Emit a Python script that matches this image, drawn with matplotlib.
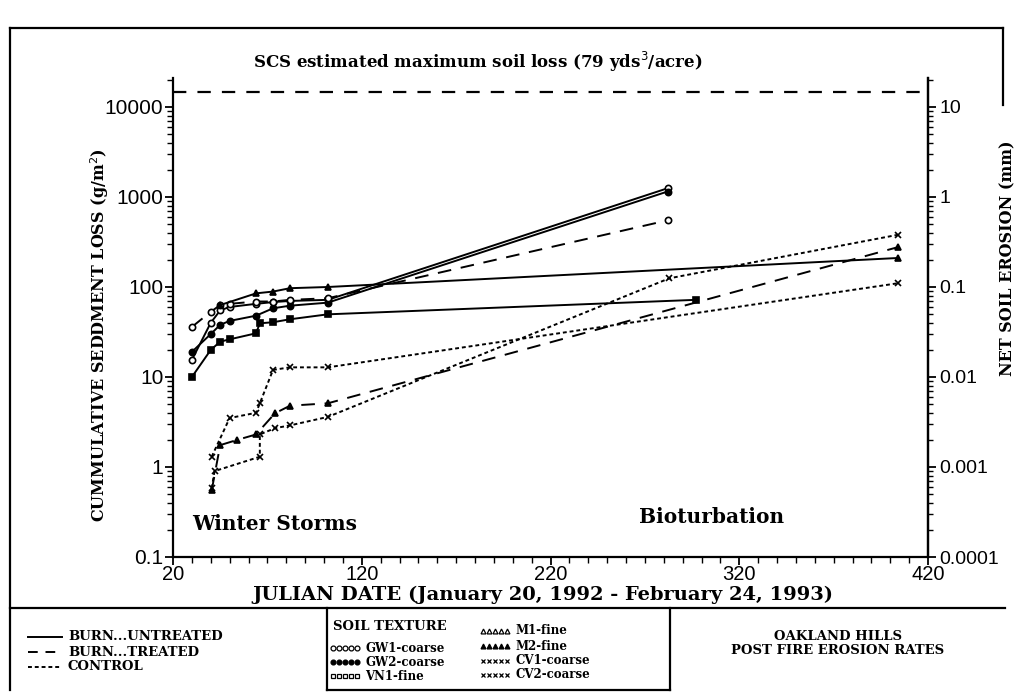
import matplotlib.pyplot as plt
from matplotlib.lines import Line2D
from matplotlib.ticker import FixedLocator, LogLocator, NullFormatter

# data (Julian day, cumulative loss in g/m2)
gw1_u_day = [30, 40, 45, 50, 64, 73, 82, 102, 282]
gw1_u_val = [15.5, 40, 55, 60, 65, 68, 70, 72, 1250]
gw2_u_day = [30, 40, 45, 50, 64, 73, 82, 102, 282]
gw2_u_val = [19, 30, 38, 42, 48, 58, 62, 67, 1150]
gw1_t_day = [30, 40, 45, 50, 64, 73, 82, 102, 282]
gw1_t_val = [36, 53, 63, 65, 69, 69, 72, 75, 550]
vn1_u_day = [30, 40, 45, 50, 64, 66, 73, 82, 102, 297]
vn1_u_val = [10, 20, 24.7, 26.2, 30.6, 39.5, 40.6, 43.8, 49.7, 72]
m1_u_day = [45, 64, 73, 82, 102, 404]
m1_u_val = [63, 85, 89, 97, 100, 210]
m2_t_day = [40.5, 45, 54, 64, 74, 82, 102, 404]
m2_t_val = [0.55, 1.75, 2.0, 2.3, 3.95, 4.8, 5.1, 277]
cv1_c_day = [40.5, 50, 64, 66, 73, 82, 102, 404]
cv1_c_val = [1.3, 3.5, 4.0, 5.1, 12, 12.8, 12.8, 110]
cv2_c_day = [40.5, 42, 66, 66, 74, 82, 102, 283, 404]
cv2_c_val = [0.58, 0.9, 1.3, 2.3, 2.7, 2.9, 3.6, 125, 380]

scs_max = 14700  # SCS estimated maximum soil loss, g/m2
mm_factor = 1000  # g/m2 per mm of net soil erosion

SERIF = "DejaVu Serif"
SANS = "Liberation Sans"

fig = plt.figure(figsize=(10.15, 6.97), dpi=100)
W, H = 1015, 697


def fx(px):
    return px / W


def fy(py):
    return 1 - py / H


ax = fig.add_axes([fx(173), fy(557), fx(928) - fx(173), fy(78) - fy(557)])
ax.set_yscale("log")
ax.set_xlim(20, 420)
ax.set_ylim(0.1, 21000)

series = [
    (gw1_u_day, gw1_u_val, "-", "o", "white"),
    (gw2_u_day, gw2_u_val, "-", "o", "black"),
    (gw1_t_day, gw1_t_val, (0, (7, 5)), "o", "white"),
    (vn1_u_day, vn1_u_val, "-", "s", "black"),
    (m1_u_day, m1_u_val, "-", "^", "black"),
    (m2_t_day, m2_t_val, (0, (7, 5)), "^", "black"),
    (cv1_c_day, cv1_c_val, (0, (2, 1.5)), "x", "black"),
    (cv2_c_day, cv2_c_val, (0, (2, 1.5)), "x", "black"),
]
for days, vals, ls, mk, mfc in series:
    ax.plot(days, vals, color="black", lw=1.4, ls=ls, marker=mk, ms=4.5,
            mfc=mfc, mec="black", mew=1.2)

ax.plot([20, 420], [scs_max, scs_max], color="black", lw=1.6, ls=(0, (6, 5)))

ax.text(30, 0.2, "Winter Storms", fontsize=14.5, fontweight="bold",
        family=SERIF)
ax.text(267, 0.24, "Bioturbation", fontsize=14.5, fontweight="bold",
        family=SERIF)

ax.spines["top"].set_visible(False)
for s in ("left", "bottom", "right"):
    ax.spines[s].set_linewidth(1.6)

ax.xaxis.set_major_locator(FixedLocator([20, 120, 220, 320, 420]))
ax.xaxis.set_minor_locator(FixedLocator(range(20, 421, 10)))
ax.yaxis.set_minor_locator(LogLocator(base=10, subs=range(2, 10), numticks=10))
ax.yaxis.set_minor_formatter(NullFormatter())
ax.set_yticks([0.1, 1, 10, 100, 1000, 10000])
ax.set_yticklabels(["0.1", "1", "10", "100", "1000", "10000"])
ax.tick_params(which="major", length=6, width=1.3, labelsize=15, pad=1)
ax.tick_params(which="minor", length=4, width=1.0)
ax.tick_params(axis="x", labelsize=14.5, pad=0)
for lab in ax.get_xticklabels() + ax.get_yticklabels():
    lab.set_family(SANS)

ax2 = ax.twinx()
ax2.set_yscale("log")
ax2.set_ylim(0.1 / mm_factor, 21000 / mm_factor)
ax2.set_yticks([0.0001, 0.001, 0.01, 0.1, 1, 10])
ax2.set_yticklabels(["0.0001", "0.001", "0.01", "0.1", "1", "10"])
ax2.yaxis.set_minor_locator(LogLocator(base=10, subs=range(2, 10), numticks=10))
ax2.yaxis.set_minor_formatter(NullFormatter())
ax2.tick_params(which="major", length=6, width=1.3, labelsize=14, pad=2)
ax2.tick_params(which="minor", length=3.5, width=1.0)
for lab in ax2.get_yticklabels():
    lab.set_family(SANS)
for s in ("top", "left", "bottom"):
    ax2.spines[s].set_visible(False)
ax2.spines["right"].set_linewidth(1.6)

# axis titles placed by hand to follow the scan
fig.text(fx(478), fy(62), "SCS estimated maximum soil loss (79 yds$^3$/acre)",
         ha="center", va="center", fontsize=12, fontweight="bold",
         family=SERIF)
fig.text(fx(543), fy(595), "JULIAN DATE (January 20, 1992 - February 24, 1993)",
         ha="center", va="center", fontsize=14, fontweight="bold",
         family=SERIF)
fig.text(fx(100), fy(335), "CUMMULATIVE SEDDMENT LOSS (g/m$^2$)",
         ha="center", va="center", rotation=90, fontsize=11.5,
         fontweight="bold", family=SERIF)
fig.text(fx(1008), fy(258), "NET SOIL EROSION (mm)", ha="center",
         va="center", rotation=90, fontsize=11.5, fontweight="bold",
         family=SERIF)

# frame and legend table
frame = dict(color="black", lw=1.6, transform=fig.transFigure)
fig.add_artist(Line2D([fx(10), fx(1003)], [fy(28), fy(28)], **frame))
fig.add_artist(Line2D([fx(10), fx(10)], [fy(28), fy(690)], **frame))
fig.add_artist(Line2D([fx(1003), fx(1003)], [fy(28), fy(105)], **frame))
fig.add_artist(Line2D([fx(10), fx(1005)], [fy(608), fy(608)], **frame))
fig.add_artist(Line2D([fx(327), fx(327)], [fy(608), fy(690)], **frame))
fig.add_artist(Line2D([fx(670), fx(670)], [fy(608), fy(690)], **frame))
fig.add_artist(Line2D([fx(327), fx(670)], [fy(690), fy(690)], **frame))

leg_font = dict(fontsize=9.5, fontweight="bold", family=SERIF, va="center",
                transform=fig.transFigure)
styles = [("-", "BURN...UNTREATED", 637), ((0, (5, 4)), "BURN...TREATED", 652),
          ((0, (2, 1.5)), "CONTROL", 667)]
for ls, txt, py in styles:
    fig.add_artist(Line2D([fx(28), fx(62)], [fy(py), fy(py)], color="black",
                          lw=1.4, ls=ls, transform=fig.transFigure))
    fig.text(fx(68), fy(py), txt, **leg_font)

fig.text(fx(333), fy(626), "SOIL TEXTURE", **leg_font)
marker_rows = [
    (333, 648, "o", "white", "GW1-coarse"),
    (333, 662, "o", "black", "GW2-coarse"),
    (333, 676, "s", "white", "VN1-fine"),
    (483, 631, "^", "white", "M1-fine"),
    (483, 646, "^", "black", "M2-fine"),
    (483, 661, "x", "black", "CV1-coarse"),
    (483, 675, "x", "black", "CV2-coarse"),
]
for px, py, mk, mfc, txt in marker_rows:
    xs = [fx(px + 6 * i) for i in range(5)]
    fig.add_artist(Line2D(xs, [fy(py)] * 5, ls="none", marker=mk, ms=3.5,
                          mfc=mfc, mec="black", mew=0.9,
                          transform=fig.transFigure))
    fig.text(fx(px + 32), fy(py), txt, fontsize=8.5, fontweight="bold",
             family=SERIF, va="center", transform=fig.transFigure)

fig.text(fx(838), fy(636), "OAKLAND HILLS", ha="center", **leg_font)
fig.text(fx(838), fy(651), "POST FIRE EROSION RATES", ha="center", **leg_font)

fig.savefig("out.png", dpi=100)
